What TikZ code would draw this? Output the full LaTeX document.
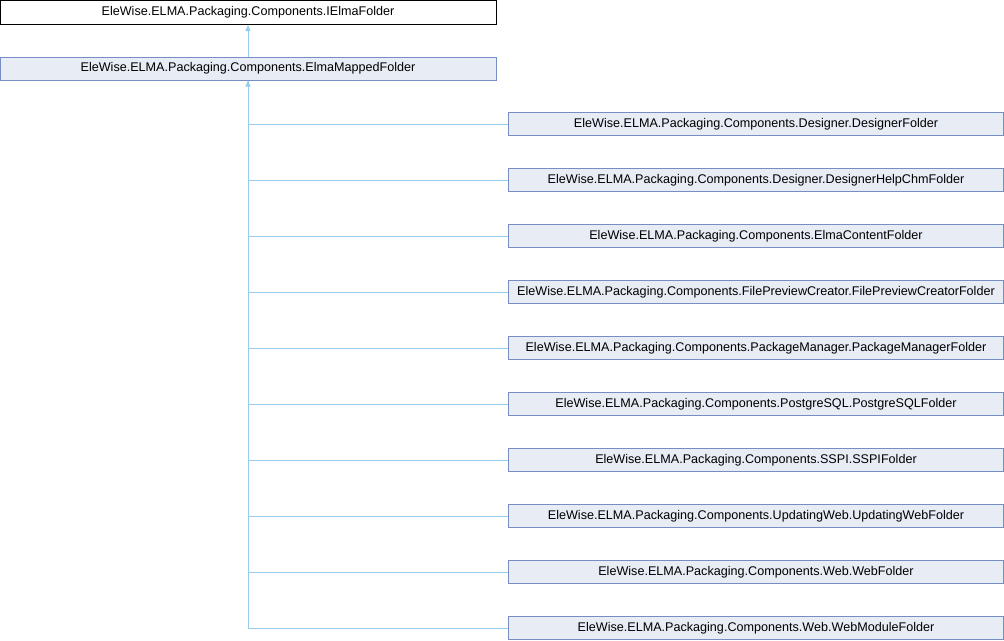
\documentclass[tikz,border=0pt]{standalone}
\usepackage{fontspec}
\setmainfont{Liberation Sans}
\usetikzlibrary{arrows.meta}
\definecolor{boxfill}{RGB}{232,236,245}
\definecolor{boxdraw}{RGB}{118,142,196}
\definecolor{edge}{RGB}{150,205,235}
\begin{document}
\begin{tikzpicture}[x=1pt,y=-1pt,
  cls/.style={draw=boxdraw,fill=boxfill,line width=1pt,minimum height=23pt,inner sep=0pt,font=\fontsize{12.6}{14}\selectfont,anchor=west},
  topcls/.style={draw=black,fill=white,line width=1pt,minimum height=24pt,minimum width=496pt,inner sep=0pt,font=\fontsize{12.6}{14}\selectfont},
  inh/.style={draw=edge,line width=1pt,-{Triangle[length=6pt,width=5pt,fill=edge]}}]
\useasboundingbox (0,0) rectangle (1004,640);
\node[topcls] (a) at (248,12.5) {EleWise.ELMA.Packaging.Components.IElmaFolder};
\node[cls,minimum width=496pt,anchor=center] (b) at (248,68.5) {EleWise.ELMA.Packaging.Components.ElmaMappedFolder};
\foreach \n/\t [count=\i from 0] in {
 c0/EleWise.ELMA.Packaging.Components.Designer.DesignerFolder,
 c1/EleWise.ELMA.Packaging.Components.Designer.DesignerHelpChmFolder,
 c2/EleWise.ELMA.Packaging.Components.ElmaContentFolder,
 c3/EleWise.ELMA.Packaging.Components.FilePreviewCreator.FilePreviewCreatorFolder,
 c4/EleWise.ELMA.Packaging.Components.PackageManager.PackageManagerFolder,
 c5/EleWise.ELMA.Packaging.Components.PostgreSQL.PostgreSQLFolder,
 c6/EleWise.ELMA.Packaging.Components.SSPI.SSPIFolder,
 c7/EleWise.ELMA.Packaging.Components.UpdatingWeb.UpdatingWebFolder,
 c8/EleWise.ELMA.Packaging.Components.Web.WebFolder,
 c9/EleWise.ELMA.Packaging.Components.Web.WebModuleFolder}{
  \node[cls,minimum width=495pt] (\n) at (508,124+56*\i) {\t};
}
\draw[inh] (b.north) -- (a.south);
\draw[draw=edge,line width=1pt] (c9.west) -| (b.south);
\foreach \i in {0,...,8}{
  \draw[draw=edge,line width=1pt] (c\i.west) -- (248,124+56*\i);
}
\draw[inh] (248,100) -- (b.south);
\end{tikzpicture}
\end{document}
